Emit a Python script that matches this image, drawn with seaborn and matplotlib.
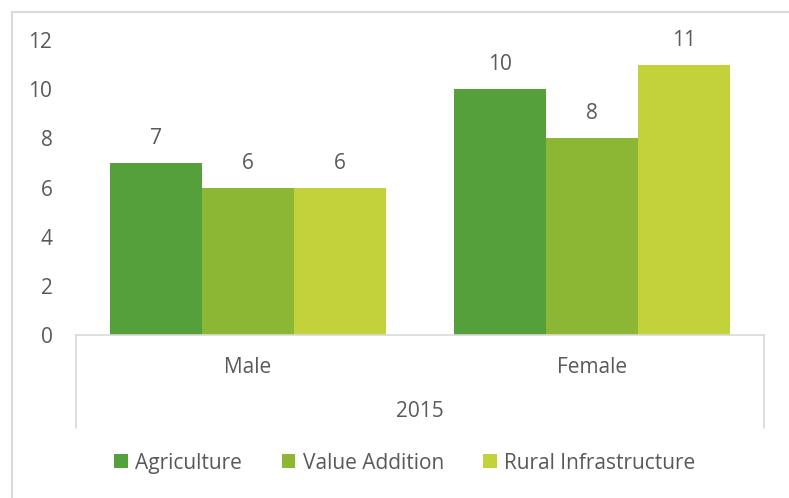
import matplotlib
matplotlib.use("Agg")
import matplotlib.pyplot as plt
import seaborn as sns
import pandas as pd
from matplotlib.lines import Line2D
from matplotlib.patches import Rectangle

categories = ["Male", "Female"]
series = ["Agriculture", "Value Addition", "Rural Infrastructure"]
agriculture = [7, 10]
value_addition = [6, 8]
rural_infrastructure = [6, 11]
year_label = "2015"
yticks = [0, 2, 4, 6, 8, 10, 12]

colors = ["#55A03B", "#8BB734", "#C3D13B"]
text_color = "#595959"
line_color = "#D9D9D9"
fs = 15

df = pd.DataFrame({
    "category": categories * 3,
    "series": [series[0]] * 2 + [series[1]] * 2 + [series[2]] * 2,
    "value": agriculture + value_addition + rural_infrastructure,
})

sns.set_theme(style="white")
plt.rcParams["font.family"] = ["Open Sans", "DejaVu Sans"]

W, H = 789, 498
XL, XR = 76, 764
fig = plt.figure(figsize=(W / 100, H / 100), dpi=100)
ax = fig.add_axes([XL / W, 1 - 335 / H, (XR - XL) / W, (335 - 40) / H])

sns.barplot(data=df, x="category", y="value", hue="series", order=categories,
            hue_order=series, palette=colors, width=0.8, saturation=1,
            ax=ax, legend=False, linewidth=0)

for cont in ax.containers:
    ax.bar_label(cont, padding=10, fontsize=fs, color=text_color)

ax.set_ylim(0, 12)
ax.set_xlim(-0.5, 1.5)
ax.set_yticks(yticks)
ax.set_yticklabels([str(v) for v in yticks])
ax.set_xlabel("")
ax.set_ylabel("")
for s in ["left", "top", "right"]:
    ax.spines[s].set_visible(False)
ax.spines["bottom"].set_color(line_color)
ax.spines["bottom"].set_linewidth(1.2)
ax.tick_params(axis="y", length=0, pad=17, labelsize=fs, labelcolor=text_color)
ax.tick_params(axis="x", length=0, pad=16, labelsize=fs, labelcolor=text_color)

# multi-level category separators
for xp in [XL, XR]:
    fig.add_artist(Line2D([xp / W, xp / W], [1 - 335 / H, 1 - 428 / H],
                          color=line_color, lw=1.2))
fig.text((XL + XR) / 2 / W, 1 - 411 / H, year_label, ha="center", va="center",
         fontsize=fs, color=text_color)

# chart border
fig.add_artist(Rectangle((12 / W, -0.02), 1.0, 1 - 12 / H + 0.02,
                         transform=fig.transFigure, fill=False,
                         edgecolor=line_color, lw=1.5))

handles = [Rectangle((0, 0), 1, 1, facecolor=c, edgecolor="none") for c in colors]
fig.legend(handles, series, loc="center", bbox_to_anchor=(405 / W, 1 - 463 / H),
           ncol=3, frameon=False, fontsize=fs, labelcolor=text_color,
           handlelength=0.65, handleheight=0.65, handletextpad=0.35,
           columnspacing=1.9)

fig.savefig("out.png", dpi=100)
